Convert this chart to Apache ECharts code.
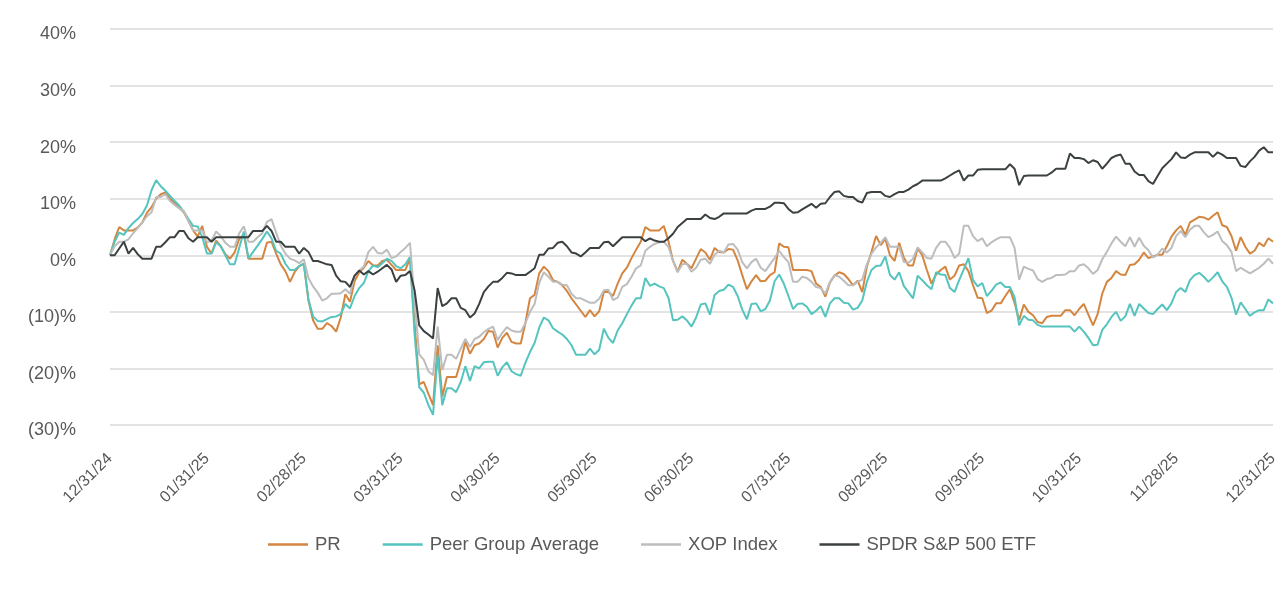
<!DOCTYPE html>
<html>
<head>
<meta charset="utf-8">
<script src="https://cdn.jsdelivr.net/npm/echarts@6/dist/echarts.min.js"></script>
<style>
  html, body { margin: 0; padding: 0; background: #fff; }
  #chart { width: 1286px; height: 594px; }
</style>
</head>
<body>
<div id="chart"></div>
<script>
// tick labels, one every 21 points
const tickLabels = ['12/31/24', '01/31/25', '02/28/25', '03/31/25', '04/30/25', '05/30/25',
  '06/30/25', '07/31/25', '08/29/25', '09/30/25', '10/31/25', '11/28/25', '12/31/25'];
const pointsPerTick = 21;

// cumulative return, %
const pr = [
  0, 2.8, 5.0, 4.4, 4.4, 4.4, 4.9, 5.8, 7.5, 8.5, 10.0, 10.8, 11.1, 10.0, 9.2, 8.4, 7.6, 6.1, 4.4, 3.3,
  5.2, 1.5, 0.3, 2.6, 1.6, 0.2, -0.6, 0.5, 2.9, 3.6, -0.6, -0.6, -0.6, -0.6, 2.2, 2.4, 0.3, -1.6, -2.8, -4.7,
  -3.0, -1.9, -1.5, -8.0, -11.5, -13.0, -13.0, -12.0, -12.5, -13.5, -11.0, -6.9, -8.2, -4.6, -3.0, -2.2, -1.0, -1.8, -1.8, -1.0,
  -0.8, -1.7, -2.6, -2.6, -2.6, -0.6, -12.0, -22.8, -22.4, -24.5, -26.5, -15.9, -25.0, -21.5, -21.5, -21.5, -18.8, -15.3, -17.4, -15.9,
  -15.6, -14.8, -13.4, -13.5, -16.3, -14.6, -13.7, -15.3, -15.6, -15.6, -12.0, -7.6, -7.0, -3.2, -2.0, -2.8, -4.4, -4.7, -5.3, -6.3,
  -7.6, -8.7, -9.8, -10.9, -9.7, -10.8, -9.9, -6.5, -6.5, -7.2, -5.0, -3.2, -2.2, -0.5, 1.0, 2.4, 5.0, 4.4, 4.4, 4.4,
  5.2, 2.5, -1.0, -2.9, -0.8, -1.5, -2.3, -0.6, 1.1, 0.5, -0.8, 1.3, 0.6, 0.5, 1.1, 1.0, -0.9, -3.5, -6.0, -4.6,
  -3.5, -4.6, -4.5, -3.5, -3.0, 2.1, 1.5, 1.4, -2.6, -2.6, -2.6, -2.6, -2.8, -5.0, -5.6, -7.3, -4.8, -3.6, -3.0, -3.3,
  -4.2, -5.3, -4.5, -6.5, -2.0, 0.6, 3.4, 1.8, 2.9, 0.0, -1.0, 2.2, -0.4, -1.8, -1.8, 1.2, 0.0, -2.6, -5.0, -3.4,
  -2.6, -2.0, -4.3, -3.6, -1.8, -1.6, -2.8, -5.3, -7.5, -7.6, -10.2, -9.8, -8.5, -8.5, -7.2, -6.0, -8.4, -11.5, -8.7, -10.0,
  -10.6, -11.8, -12.0, -10.9, -10.7, -10.7, -10.7, -9.7, -9.7, -10.6, -9.5, -8.6, -10.5, -12.4, -10.4, -6.8, -4.7, -4.0, -2.8, -3.4,
  -3.5, -1.7, -1.6, -0.8, 0.5, -0.5, -0.2, 0.1, 0.1, 1.6, 3.3, 4.4, 5.2, 3.6, 5.8, 6.3, 6.8, 6.7, 6.3, 7.0,
  7.6, 5.3, 5.0, 3.4, 0.8, 3.2, 1.5, 0.3, 0.8, 2.2, 1.6, 3.0, 2.4
];
const peerAvg = [
  0, 2.4, 4.0, 3.6, 4.8, 5.7, 6.4, 7.3, 8.8, 11.5, 13.3, 12.2, 11.4, 10.5, 9.6, 8.8, 7.7, 6.4, 5.2, 5.1,
  3.2, 0.3, 0.3, 2.3, 1.6, 0.0, -1.6, -1.6, 1.3, 4.2, -0.6, 0.6, 1.7, 2.9, 4.2, 3.0, 0.8, 0.3, -1.5, -2.6,
  -2.6, -1.9, -1.5, -7.8, -10.8, -11.6, -11.7, -11.3, -10.9, -10.8, -10.4, -8.6, -9.4, -7.2, -5.8, -4.9, -2.8, -1.8, -2.1, -1.4,
  -0.6, -1.0, -1.9, -2.3, -1.6, -0.3, -14.0, -23.3, -24.3, -26.5, -28.2, -17.6, -26.5, -23.5, -23.5, -24.2, -22.4, -19.6, -22.2, -19.6,
  -20.0, -18.9, -18.8, -18.8, -21.3, -19.8, -18.9, -20.5, -21.0, -21.3, -19.0, -17.1, -15.5, -12.8, -11.0, -11.5, -12.9, -13.5, -14.0, -14.8,
  -15.9, -17.6, -17.6, -17.6, -16.5, -17.5, -16.7, -13.0, -14.6, -15.5, -13.3, -12.0, -10.4, -8.9, -7.6, -7.6, -4.0, -5.4, -5.0, -5.5,
  -5.8, -7.5, -11.5, -11.4, -10.8, -11.5, -12.6, -11.0, -8.7, -8.5, -10.5, -7.0, -6.3, -6.1, -5.2, -5.6, -7.2, -9.6, -11.3, -8.6,
  -8.5, -9.9, -9.5, -8.0, -4.6, -3.4, -5.0, -7.2, -9.5, -8.6, -8.5, -9.1, -10.4, -9.8, -9.0, -10.9, -8.5, -7.6, -7.6, -8.4,
  -8.5, -9.6, -9.3, -8.0, -4.7, -2.6, -1.9, -1.8, -0.2, -3.5, -4.3, -3.0, -5.4, -6.5, -7.6, -3.6, -4.4, -5.3, -6.0, -3.0,
  -3.4, -3.5, -5.8, -6.5, -4.4, -2.5, -0.5, -4.4, -5.5, -4.9, -7.2, -6.3, -5.2, -4.8, -5.6, -5.6, -7.4, -12.4, -10.7, -11.4,
  -11.5, -12.3, -12.6, -12.6, -12.6, -12.6, -12.6, -12.6, -12.6, -13.5, -12.6, -13.5, -14.6, -15.9, -15.8, -13.2, -12.2, -10.9, -10.0, -11.6,
  -10.8, -8.6, -10.7, -8.6, -9.4, -10.2, -10.4, -9.5, -8.7, -9.7, -8.5, -6.5, -5.8, -6.5, -4.4, -3.5, -3.1, -3.8, -4.7, -3.9,
  -3.0, -4.6, -5.6, -7.5, -10.5, -8.3, -9.5, -10.7, -10.1, -9.7, -9.7, -7.8, -8.5
];
const xop = [
  0, 1.6, 2.4, 2.4, 2.8, 3.9, 4.8, 5.8, 6.9, 7.6, 10.3, 10.3, 10.8, 9.6, 8.9, 8.3, 7.8, 6.0, 4.4, 4.4,
  4.4, 2.3, 2.6, 4.2, 3.4, 2.2, 1.5, 1.5, 3.9, 5.1, 2.4, 2.4, 3.2, 3.9, 5.9, 6.4, 4.0, 1.7, 0.3, -0.6,
  -0.9, -1.4, -0.7, -4.0, -5.5, -6.6, -8.0, -7.6, -6.8, -6.8, -6.7, -6.0, -6.8, -3.6, -2.7, -2.0, 0.6, 1.5, 0.4, 0.3,
  1.0, -0.5, -0.2, 0.6, 1.3, 2.2, -8.0, -17.5, -18.5, -20.5, -21.2, -12.6, -20.3, -17.6, -17.6, -18.3, -16.5, -14.8, -16.2, -14.8,
  -14.4, -13.6, -13.0, -12.6, -15.0, -13.7, -12.7, -13.3, -13.5, -13.5, -12.0, -10.0, -8.6, -4.9, -3.0, -3.8, -4.7, -4.7, -5.2, -5.3,
  -6.8, -7.6, -7.6, -8.0, -8.4, -8.4, -7.7, -6.2, -6.1, -7.9, -7.5, -5.6, -5.1, -3.8, -2.3, -1.8, 0.8, 1.5, 2.0, 2.3,
  2.4, 1.5, -1.0, -3.0, -1.6, -1.5, -2.9, -2.2, -0.8, -0.6, -1.5, 0.1, 0.8, 0.5, 1.9, 2.0, 1.0, -1.2, -2.3, -1.2,
  -0.6, -2.2, -2.8, -1.6, -0.5, 0.8, -0.3, -1.2, -4.7, -4.7, -3.8, -4.0, -4.7, -5.6, -5.8, -6.8, -4.7, -3.5, -3.8, -4.5,
  -5.3, -5.3, -4.7, -4.3, -1.6, 0.3, 1.4, 2.2, 3.2, 1.5, 1.5, 1.5, -1.2, -1.3, -0.6, 1.4, 0.5, -0.5, -0.6, 1.3,
  2.4, 2.4, 1.3, -0.5, 0.3, 5.2, 5.2, 3.4, 2.5, 3.0, 1.6, 2.3, 2.8, 3.2, 3.2, 3.2, 1.3, -4.3, -2.0, -2.4,
  -2.7, -4.2, -4.7, -4.2, -4.0, -3.5, -3.5, -3.4, -2.8, -2.8, -1.8, -1.6, -2.3, -3.3, -2.6, -0.7, 0.6, 2.1, 3.3, 2.4,
  1.6, 3.2, 1.5, 3.1, 1.7, 0.9, -0.4, 0.1, 1.2, 0.5, 1.3, 3.4, 4.3, 3.2, 4.5, 5.2, 5.2, 4.1, 3.2, 3.6,
  4.2, 2.5, 1.8, 0.6, -2.8, -2.2, -2.7, -3.2, -2.7, -2.2, -1.5, -0.6, -1.5
];
const spdr = [
  0, 0, 1.2, 2.4, 0.3, 1.3, 0.2, -0.6, -0.6, -0.6, 1.5, 1.5, 2.3, 3.2, 3.2, 4.3, 4.3, 3.0, 2.4, 3.2,
  3.2, 3.2, 2.4, 3.2, 3.2, 3.2, 3.2, 3.2, 3.2, 3.2, 3.2, 4.3, 4.3, 4.3, 5.2, 4.3, 2.4, 2.4, 1.5, 1.5,
  1.5, 0.3, 1.3, 0.6, -1.0, -1.0, -1.3, -1.6, -1.7, -3.6, -4.6, -4.7, -5.6, -3.6, -2.7, -3.4, -2.8, -3.4, -2.9, -2.3,
  -1.7, -2.5, -4.7, -3.6, -3.5, -2.8, -6.2, -12.4, -13.4, -14.0, -14.7, -5.8, -9.0, -8.5, -7.6, -7.6, -9.3, -9.7, -11.0, -10.3,
  -8.6, -6.5, -5.5, -4.7, -4.7, -4.0, -3.1, -3.2, -3.5, -3.5, -3.5, -2.9, -2.3, 0.1, 0.1, 1.2, 1.3, 2.2, 2.4, 1.6,
  0.5, 0.3, -0.2, 0.5, 1.3, 1.3, 1.3, 2.3, 2.4, 1.6, 2.4, 3.2, 3.2, 3.2, 3.2, 3.2, 2.5, 3.0, 2.6, 2.4,
  2.4, 3.0, 3.8, 5.0, 5.7, 6.4, 6.4, 6.4, 6.4, 7.2, 6.6, 6.4, 6.8, 7.4, 7.4, 7.4, 7.4, 7.4, 7.4, 7.9,
  8.2, 8.2, 8.2, 8.6, 9.3, 9.3, 9.2, 8.2, 7.5, 7.6, 8.1, 8.6, 9.1, 8.4, 9.1, 9.2, 10.3, 11.2, 11.3, 10.5,
  10.3, 10.3, 9.6, 9.3, 11.0, 11.2, 11.2, 11.2, 10.5, 10.3, 10.8, 11.2, 11.2, 11.6, 12.2, 12.6, 13.2, 13.2, 13.2, 13.2,
  13.2, 13.6, 14.1, 14.6, 15.0, 13.2, 14.1, 14.1, 15.1, 15.2, 15.2, 15.2, 15.2, 15.2, 15.2, 16.1, 15.3, 12.4, 14.0, 14.1,
  14.1, 14.1, 14.1, 14.1, 14.6, 15.3, 15.3, 15.3, 18.0, 17.2, 17.2, 17.0, 16.3, 16.8, 16.5, 15.3, 16.2, 17.2, 17.6, 17.8,
  16.2, 16.2, 14.8, 14.2, 14.2, 13.1, 12.6, 14.0, 15.4, 16.2, 17.0, 18.2, 17.3, 17.2, 17.8, 18.2, 18.2, 18.2, 18.2, 17.4,
  18.2, 17.8, 17.2, 17.2, 17.2, 15.8, 15.6, 16.6, 17.4, 18.5, 19.1, 18.2, 18.2
];

const seriesNames = ['PR', 'Peer Group Average', 'XOP Index', 'SPDR S&P 500 ETF'];
const seriesColors = ['#d4853f', '#55c4bf', '#bdbdbd', '#3b4040'];

const categories = pr.map((_, i) => String(i));

var chartDom = document.getElementById('chart');
var myChart = echarts.init(chartDom, null, { renderer: 'canvas' });
var fontFamily = '"Liberation Sans", Arial, sans-serif';

var option = {
  animation: false,
  color: seriesColors,
  grid: { left: 110, right: 13, top: 29, bottom: 169, containLabel: false },
  legend: {
    top: 530,
    left: 263,
    icon: 'rect',
    itemWidth: 40,
    itemHeight: 2.5,
    itemGap: 42,
    textStyle: { fontSize: 18.5, color: '#595959', fontFamily: fontFamily, padding: [0, 0, 0, 2] },
    data: seriesNames
  },
  xAxis: {
    type: 'category',
    boundaryGap: false,
    data: categories,
    axisLine: { show: false },
    axisTick: { show: false },
    splitLine: { show: false },
    axisLabel: {
      interval: function (i) { return i % pointsPerTick === 0; },
      formatter: function (v, i) { return tickLabels[i / pointsPerTick]; },
      rotate: 45,
      margin: 31,
      fontSize: 16,
      color: '#595959',
      fontFamily: fontFamily
    }
  },
  yAxis: {
    type: 'value',
    min: -30,
    max: 40,
    interval: 10,
    axisLine: { show: false },
    axisTick: { show: false },
    splitLine: { lineStyle: { color: '#e3e3e3', width: 2 } },
    axisLabel: {
      margin: 34,
      color: '#595959',
      formatter: function (v) {
        var s = v < 0 ? '(' + (-v) + ')%' : v + '%';
        return '{t|' + s + '}';
      },
      rich: {
        t: { fontSize: 18, color: '#595959', fontFamily: fontFamily, padding: [11, 0, 0, 0] }
      }
    }
  },
  series: [pr, peerAvg, xop, spdr].map(function (d, k) {
    return {
      name: seriesNames[k],
      type: 'line',
      data: d,
      symbol: 'none',
      lineStyle: { width: 2 }
    };
  })
};

option && myChart.setOption(option);
</script>
</body>
</html>
